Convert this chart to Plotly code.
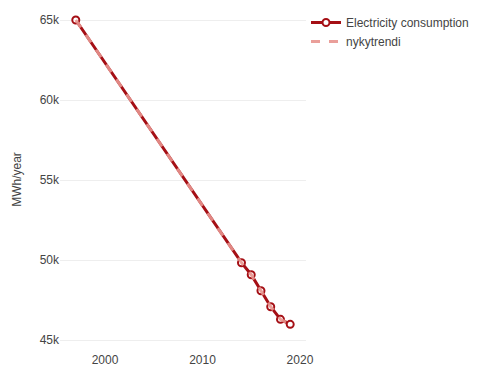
import plotly.graph_objects as go

years = [1997, 2014, 2015, 2016, 2017, 2018, 2019]
consumption = [65000, 49830, 49080, 48080, 47080, 46290, 45980]
trend_years = [1997, 2014, 2015, 2016, 2017, 2018, 2019]
trend_values = [65000, 49830, 49080, 48080, 47080, 46290, 45980]

fig = go.Figure()
fig.add_trace(go.Scatter(
    x=years, y=consumption, name="Electricity consumption",
    mode="lines+markers",
    line=dict(color="#a50f15", width=3),
    marker=dict(symbol="circle", size=7, color="white",
                line=dict(color="#a50f15", width=2)),
))
fig.add_trace(go.Scatter(
    x=trend_years, y=trend_values, name="nykytrendi",
    mode="lines",
    line=dict(color="#e8958f", width=3, dash="dash"),
    opacity=0.9,
))

fig.update_layout(
    width=478, height=373,
    template="plotly_white",
    font=dict(family="Liberation Sans, Arial, sans-serif", size=12, color="#444"),
    margin=dict(l=52, r=180, t=0, b=30),
    showlegend=True,
    legend=dict(x=1.0, y=1, xanchor="left", yanchor="top",
                font=dict(size=12, color="#444"), tracegroupgap=0),
    xaxis=dict(range=[1995.38, 2020.62], tickvals=[2000, 2010, 2020],
               showgrid=False, zeroline=False, showline=False),
    yaxis=dict(range=[44312.5, 65750], tickvals=[45000, 50000, 55000, 60000, 65000],
               ticktext=["45k", "50k", "55k", "60k", "65k"],
               title=dict(text="MWh/year", font=dict(size=12)),
               gridcolor="#eeeeee", zeroline=False),
)

fig.write_html("out.html")
